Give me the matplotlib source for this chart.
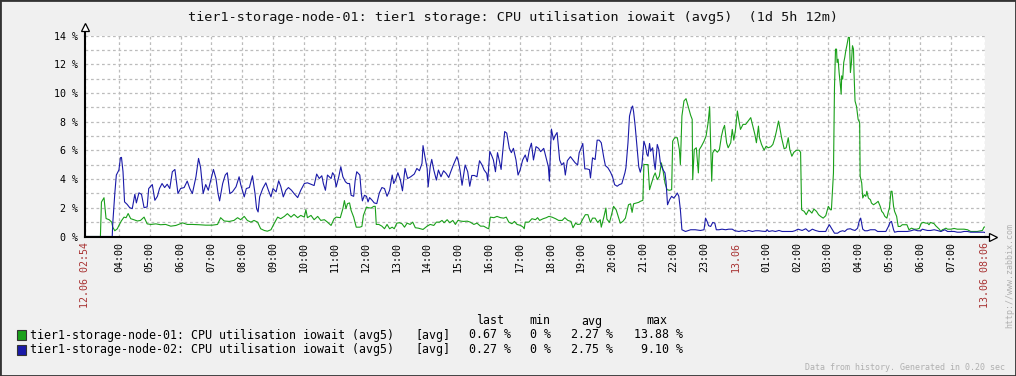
import matplotlib
matplotlib.use('Agg')
import matplotlib.pyplot as plt
from matplotlib.patches import Rectangle

plt.rcParams['font.family'] = ['DejaVu Sans Mono']

# time = minutes since 12.06 00:00, values = iowait %
t_node01 = [174, 204, 206, 211, 215, 221, 226, 228, 232, 237, 240, 245, 250, 254, 258, 263, 269, 276, 282, 289,
            295, 302, 312, 321, 331, 341, 351, 364, 373, 383, 396, 409, 422, 432, 438, 445, 455, 464, 471, 477,
            484, 490, 497, 503, 510, 516, 523, 529, 536, 542, 549, 555, 562, 568, 575, 581, 588, 594, 601, 604,
            607, 614, 620, 627, 633, 640, 646, 653, 659, 663, 671, 676, 679, 682, 685, 689, 692, 697, 702, 709,
            713, 716, 722, 726, 731, 736, 739, 741, 746, 752, 757, 762, 767, 772, 776, 781, 786, 791, 796, 801,
            807, 812, 817, 823, 832, 840, 846, 853, 858, 864, 869, 873, 879, 884, 890, 895, 900, 906, 911, 918,
            924, 931, 937, 944, 950, 957, 960, 963, 970, 976, 983, 989, 994, 999, 1005, 1010, 1015, 1022, 1027, 1029,
            1031, 1038, 1044, 1051, 1055, 1059, 1066, 1072, 1077, 1083, 1090, 1096, 1103, 1108, 1114, 1120, 1124, 1129, 1133, 1138,
            1143, 1148, 1153, 1158, 1162, 1167, 1172, 1177, 1179, 1184, 1188, 1190, 1195, 1199, 1203, 1208, 1212, 1216, 1221, 1226,
            1229, 1232, 1236, 1239, 1242, 1247, 1252, 1255, 1260, 1262, 1266, 1270, 1273, 1277, 1281, 1284, 1288, 1292, 1296, 1299,
            1303, 1307, 1312, 1316, 1318, 1322, 1327, 1331, 1333, 1336, 1340, 1344, 1348, 1353, 1356, 1357, 1360, 1364, 1368, 1370,
            1374, 1379, 1383, 1387, 1390, 1392, 1394, 1396, 1400, 1405, 1409, 1413, 1416, 1419, 1423, 1426, 1431, 1434, 1437, 1440,
            1444, 1447, 1450, 1455, 1460, 1465, 1470, 1474, 1478, 1481, 1485, 1487, 1491, 1496, 1500, 1504, 1509, 1513, 1517, 1520,
            1524, 1526, 1530, 1535, 1539, 1543, 1546, 1550, 1554, 1559, 1564, 1567, 1569, 1574, 1578, 1583, 1589, 1593, 1598, 1602,
            1606, 1611, 1616, 1621, 1625, 1627, 1631, 1633, 1635, 1637, 1638, 1640, 1642, 1644, 1646, 1647, 1649, 1651, 1653, 1655,
            1657, 1660, 1662, 1664, 1666, 1668, 1670, 1671, 1673, 1676, 1679, 1682, 1683, 1686, 1688, 1691, 1694, 1696, 1699, 1703,
            1705, 1709, 1714, 1718, 1722, 1725, 1728, 1731, 1735, 1738, 1740, 1743, 1745, 1748, 1750, 1754, 1757, 1761, 1765, 1770,
            1774, 1778, 1783, 1788, 1793, 1798, 1802, 1806, 1811, 1814, 1817, 1820, 1824, 1827, 1830, 1833, 1837, 1840, 1843, 1846,
            1850, 1853, 1859, 1866, 1872, 1879, 1885, 1892, 1898, 1905, 1911, 1918, 1921, 1924, 1926]
v_node01 = [0, 0, 2.4, 2.7, 1.25, 1.17, 1.0, 0.65, 0.4, 0.54, 0.77, 1.1, 1.35, 1.31, 1.6, 1.24, 1.17, 1.08, 1.12, 1.35,
            0.88, 0.84, 0.88, 0.82, 0.84, 0.72, 0.77, 0.95, 0.84, 0.84, 0.82, 0.79, 0.79, 0.84, 1.31, 1.08, 1.05, 1.12, 1.31, 1.17,
            1.40, 1.12, 1.0, 1.12, 1.0, 0.54, 0.42, 0.37, 0.47, 0.89, 1.35, 1.24, 1.40, 1.59, 1.35, 1.54, 1.31, 1.47, 1.35, 1.87,
            1.31, 1.47, 1.17, 1.40, 1.12, 1.17, 1.0, 0.77, 1.24, 1.35, 1.31, 1.94, 2.5, 1.94, 2.29, 2.34, 1.82, 1.35, 0.65, 0.65,
            0.70, 1.47, 2.05, 2.0, 1.98, 2.1, 2.1, 0.84, 0.84, 0.72, 0.54, 0.84, 0.54, 0.65, 0.54, 0.93, 0.96, 0.89, 0.65, 0.93,
            0.84, 1.0, 0.61, 0.58, 0.49, 0.72, 0.84, 0.77, 1.0, 1.0, 1.12, 0.96, 1.17, 0.96, 1.12, 0.84, 1.12, 1.07, 1.05, 1.07,
            1.0, 0.84, 0.93, 0.72, 0.72, 0.58, 0.54, 1.35, 1.31, 1.40, 1.31, 1.28, 1.35, 1.0, 0.89, 1.05, 0.84, 0.77, 0.65, 0.54,
            1.0, 1.0, 1.24, 1.17, 1.31, 1.12, 1.24, 1.31, 1.40, 1.35, 1.24, 1.12, 1.12, 1.31, 1.12, 1.05, 0.61, 0.93, 0.84, 0.86,
            1.21, 1.52, 1.52, 0.98, 1.28, 1.28, 0.98, 1.17, 0.65, 1.35, 1.98, 1.21, 0.98, 1.52, 2.10, 1.86, 1.40, 0.93, 1.05, 1.28,
            1.75, 2.21, 2.28, 1.68, 2.28, 2.33, 2.38, 2.45, 2.52, 5.01, 5.01, 5.01, 3.26, 3.73, 4.20, 4.43, 3.96, 4.20, 5.13, 4.66,
            3.73, 3.26, 3.22, 3.26, 6.64, 6.88, 6.88, 6.06, 5.01, 8.39, 9.44, 9.60, 9.09, 8.44, 8.16, 3.96, 6.06, 6.18, 4.43, 6.06,
            6.29, 6.64, 6.99, 7.93, 9.04, 6.29, 3.85, 5.83, 6.06, 5.87, 6.06, 6.99, 7.46, 7.74, 6.53, 6.18, 6.53, 7.46, 6.71, 7.34,
            8.74, 8.04, 7.46, 7.81, 7.81, 8.04, 8.28, 7.69, 7.11, 6.53, 7.69, 6.88, 6.41, 6.01, 6.29, 6.18, 6.25, 6.41, 6.88, 7.34,
            8.04, 7.69, 6.88, 6.11, 6.18, 6.88, 6.06, 5.59, 5.87, 6.01, 6.01, 5.87, 1.86, 1.75, 1.52, 1.86, 1.63, 1.91, 1.75, 1.52,
            1.40, 1.28, 1.45, 2.10, 1.86, 1.86, 4.43, 10.37, 13.05, 13.05, 12.12, 12.35, 11.42, 10.72, 9.91, 11.19, 10.96, 12.12, 12.47, 12.94,
            13.29, 13.87, 13.87, 11.42, 12.12, 13.29, 13.05, 11.42, 9.44, 9.04, 8.16, 7.93, 4.20, 3.73, 2.68, 2.91, 2.80, 3.15, 2.68, 2.56,
            2.33, 2.21, 2.33, 2.45, 2.10, 1.75, 1.63, 1.40, 1.28, 1.75, 1.98, 3.15, 3.15, 2.10, 1.75, 1.40, 0.70, 0.70, 0.82, 0.82,
            0.82, 0.47, 0.58, 0.51, 0.51, 0.56, 0.93, 0.98, 0.93, 0.93, 0.82, 0.98, 0.93, 0.89, 0.75, 0.65, 0.51, 0.35, 0.47, 0.51,
            0.58, 0.51, 0.51, 0.56, 0.51, 0.51, 0.51, 0.47, 0.35, 0.35, 0.35, 0.40, 0.42, 0.65, 0.67]

t_node02 = [174, 227, 228, 232, 235, 240, 243, 245, 248, 251, 256, 261, 266, 271, 274, 279, 284, 289, 295, 298,
            305, 310, 315, 319, 324, 329, 334, 339, 344, 349, 352, 355, 360, 367, 373, 378, 383, 390, 395, 399,
            404, 409, 414, 419, 424, 429, 433, 436, 442, 447, 451, 456, 461, 468, 474, 477, 484, 488, 494, 500,
            505, 508, 511, 514, 520, 526, 531, 536, 540, 546, 551, 555, 560, 565, 570, 576, 581, 588, 594, 601,
            607, 614, 620, 625, 630, 635, 638, 642, 646, 653, 656, 659, 663, 668, 672, 676, 681, 685, 689, 692,
            697, 700, 703, 709, 712, 714, 718, 722, 725, 728, 733, 737, 742, 747, 752, 757, 762, 767, 772, 775,
            779, 783, 788, 792, 797, 802, 808, 815, 820, 825, 830, 832, 836, 840, 842, 846, 849, 853, 858, 862,
            867, 872, 877, 882, 886, 891, 898, 901, 904, 908, 911, 914, 919, 923, 927, 932, 937, 942, 947, 951,
            956, 958, 962, 966, 969, 973, 977, 981, 984, 987, 991, 995, 1000, 1004, 1008, 1013, 1017, 1021, 1026, 1031,
            1035, 1039, 1043, 1047, 1052, 1057, 1061, 1067, 1072, 1076, 1078, 1080, 1082, 1086, 1089, 1093, 1098, 1102, 1106, 1109,
            1113, 1119, 1124, 1128, 1133, 1136, 1140, 1143, 1147, 1151, 1156, 1158, 1162, 1167, 1171, 1175, 1179, 1184, 1187, 1192,
            1197, 1201, 1205, 1210, 1214, 1219, 1225, 1227, 1231, 1234, 1238, 1240, 1242, 1245, 1249, 1252, 1255, 1258, 1262, 1265,
            1268, 1270, 1273, 1275, 1279, 1282, 1284, 1288, 1291, 1294, 1299, 1303, 1305, 1308, 1312, 1316, 1320, 1323, 1327, 1330,
            1333, 1336, 1343, 1353, 1362, 1372, 1379, 1382, 1385, 1388, 1392, 1396, 1400, 1403, 1408, 1414, 1421, 1427, 1434, 1439,
            1447, 1453, 1460, 1466, 1473, 1479, 1486, 1492, 1499, 1502, 1505, 1512, 1518, 1525, 1531, 1541, 1551, 1556, 1562, 1570,
            1577, 1583, 1590, 1596, 1603, 1609, 1616, 1618, 1623, 1627, 1633, 1639, 1644, 1649, 1653, 1658, 1664, 1668, 1673, 1678,
            1681, 1684, 1688, 1692, 1697, 1703, 1707, 1712, 1717, 1722, 1728, 1733, 1738, 1741, 1744, 1748, 1750, 1756, 1762, 1769,
            1775, 1782, 1788, 1795, 1801, 1804, 1808, 1814, 1820, 1827, 1833, 1840, 1848, 1853, 1859, 1866, 1872, 1879, 1885, 1892,
            1898, 1905, 1911, 1918, 1924, 1926]
v_node02 = [0, 0, 0.89, 2.99, 4.28, 4.63, 5.49, 5.51, 4.51, 2.41, 2.24, 2.01, 1.94, 2.94, 2.34, 3.04, 2.94, 2.01, 2.06, 3.34,
            3.62, 2.52, 2.80, 3.34, 3.69, 3.41, 3.64, 3.34, 4.51, 4.67, 3.81, 2.99, 3.34, 3.41, 3.86, 3.34, 2.99, 4.16, 5.44, 4.81,
            2.99, 3.62, 3.22, 3.93, 4.67, 4.04, 2.99, 2.48, 3.69, 4.28, 4.44, 2.99, 3.11, 3.46, 4.16, 3.64, 2.76, 3.34, 3.41, 4.23,
            2.99, 1.94, 1.71, 2.76, 3.34, 3.74, 3.22, 2.76, 3.34, 3.11, 3.88, 3.50, 2.76, 3.22, 3.41, 3.22, 2.99, 2.71, 3.22, 3.69,
            3.74, 3.64, 3.55, 4.35, 4.04, 4.23, 3.69, 3.22, 4.28, 4.04, 4.44, 4.28, 3.46, 4.16, 4.86, 4.16, 3.81, 3.69, 3.69, 2.87,
            2.80, 3.93, 4.51, 4.28, 2.99, 2.48, 2.87, 2.80, 2.41, 2.71, 2.52, 2.34, 2.29, 3.04, 3.41, 3.34, 2.80, 3.22, 4.28, 3.69,
            3.97, 4.44, 3.93, 3.18, 4.74, 4.04, 4.16, 4.35, 4.74, 4.58, 5.09, 6.33, 5.51, 4.74, 3.46, 4.86, 5.37, 4.63, 3.93, 4.63,
            4.16, 4.58, 4.39, 4.11, 4.51, 4.98, 5.56, 5.21, 4.63, 3.57, 4.28, 4.98, 4.51, 3.50, 4.25, 4.25, 4.16, 5.28, 4.98, 4.63,
            4.39, 3.88, 5.93, 5.61, 5.33, 4.51, 5.84, 5.21, 4.67, 5.84, 7.31, 7.20, 6.14, 5.84, 6.14, 5.33, 4.28, 4.63, 5.33, 5.68,
            5.21, 6.03, 6.50, 5.33, 6.26, 6.14, 5.91, 6.14, 5.44, 4.86, 3.86, 5.91, 7.48, 6.73, 7.01, 7.24, 5.33, 4.98, 5.14, 4.28,
            5.28, 5.56, 5.33, 5.14, 4.98, 5.83, 6.18, 6.48, 4.71, 4.71, 4.66, 4.08, 5.48, 5.36, 6.71, 6.71, 6.53, 5.48, 4.94, 4.78,
            4.48, 4.15, 3.61, 3.50, 3.61, 3.68, 4.43, 4.78, 6.53, 8.39, 8.97, 9.09, 8.67, 7.69, 6.06, 4.85, 4.48, 4.90, 6.64, 6.29,
            5.71, 5.59, 6.48, 5.94, 6.18, 5.13, 4.66, 6.41, 6.06, 5.13, 4.66, 4.43, 3.85, 2.21, 2.56, 2.80, 2.68, 2.80, 3.03, 2.80,
            1.86, 0.47, 0.35, 0.47, 0.47, 0.42, 0.47, 1.28, 1.05, 0.75, 0.70, 0.98, 0.93, 0.47, 0.47, 0.51, 0.47, 0.51, 0.51, 0.40,
            0.35, 0.40, 0.35, 0.42, 0.35, 0.40, 0.40, 0.37, 0.35, 0.47, 0.35, 0.40, 0.35, 0.42, 0.35, 0.35, 0.35, 0.40, 0.51, 0.42,
            0.54, 0.35, 0.51, 0.42, 0.35, 0.35, 0.35, 0.51, 0.82, 0.58, 0.23, 0.23, 0.35, 0.40, 0.35, 0.51, 0.54, 0.47, 0.42, 0.58,
            1.05, 1.28, 0.51, 0.40, 0.40, 0.47, 0.47, 0.47, 0.35, 0.35, 0.35, 0.35, 0.70, 0.98, 1.05, 0.47, 0.30, 0.35, 0.35, 0.35,
            0.35, 0.40, 0.47, 0.40, 0.40, 0.51, 0.47, 0.42, 0.42, 0.47, 0.42, 0.35, 0.47, 0.35, 0.35, 0.35, 0.30, 0.30, 0.35, 0.35,
            0.30, 0.30, 0.30, 0.30, 0.30, 0.27]

names = ['tier1-storage-node-01: CPU utilisation iowait (avg5)',
         'tier1-storage-node-02: CPU utilisation iowait (avg5)']
stat_headers = ['last', 'min', 'avg', 'max']
stat_values = [['0.67 %', '0 %', '2.27 %', '13.88 %'],
               ['0.27 %', '0 %', '2.75 %', '9.10 %']]
colors = ['#1aa01a', '#1a1aa8']
title = 'tier1-storage-node-01: tier1 storage: CPU utilisation iowait (avg5)  (1d 5h 12m)'

W, H = 1016, 376
RED = '#a83232'
GRID = '#bcbcbc'


def fx(px):
    return px / W


def fy(py):
    return 1 - py / H


fig = plt.figure(figsize=(W / 100, H / 100), dpi=100, facecolor='#f0f0f0')
ax = fig.add_axes([fx(85), fy(236.5), 900 / W, 201 / H])
ax.set_facecolor('white')

ax.plot(t_node01, v_node01, color=colors[0], lw=0.8, zorder=3)
ax.plot(t_node02, v_node02, color=colors[1], lw=0.8, zorder=4)

ax.set_xlim(174, 1926)
ax.set_ylim(0, 14)

# x ticks: start, every hour up to 07:00, end
hours = list(range(240, 1861, 60))
xticks = [174] + hours + [1926]
xlabels = ['12.06 02:54']
for m in hours:
    xlabels.append('13.06' if m == 1440 else '%02d:00' % ((m // 60) % 24))
xlabels.append('13.06 08:06')
ax.set_xticks(xticks)
ax.set_xticklabels(xlabels, rotation=90, fontsize=7.2)
for lab in ax.get_xticklabels():
    if '.' in lab.get_text():
        lab.set_color(RED)

ax.set_yticks(range(0, 15, 2))
ax.set_yticklabels(['%d %%' % v for v in range(0, 15, 2)], fontsize=7.2)
ax.set_yticks(range(1, 14, 2), minor=True)
ax.tick_params(axis='both', which='both', length=0)
ax.tick_params(axis='x', pad=4)
ax.tick_params(axis='y', pad=5)

ax.grid(True, which='both', color=GRID, lw=0.9, linestyle=(0, (2.2, 2.2)), zorder=1)

for s in ['top', 'right']:
    ax.spines[s].set_visible(False)
for s in ['left', 'bottom']:
    ax.spines[s].set_linewidth(1.5)
    ax.spines[s].set_color('black')
    ax.spines[s].set_zorder(5)

# axis arrows
ax.plot([0, 0], [1, 1.025], transform=ax.transAxes, color='black', lw=1.5, clip_on=False)
ax.plot([0], [1.04], transform=ax.transAxes, marker='^', ms=6, mfc='white', mec='black', mew=0.9, clip_on=False)
ax.plot([1, 1.005], [0, 0], transform=ax.transAxes, color='black', lw=1.5, clip_on=False)
ax.plot([1.009], [0], transform=ax.transAxes, marker='>', ms=6, mfc='white', mec='black', mew=0.9, clip_on=False)

fig.text(fx(513), fy(17), title, ha='center', va='center', fontsize=9.7, color='#111111')

# legend
hdr_x = [490, 540, 592, 657]
for h, x in zip(stat_headers, hdr_x):
    fig.text(fx(x), fy(321), h, ha='center', va='center', fontsize=8.4)
val_x = [511, 551, 613, 683]
for i, (name, vals) in enumerate(zip(names, stat_values)):
    yc = 335 + 14.5 * i
    fig.add_artist(Rectangle((fx(17), fy(yc + 5)), 9 / W, 10 / H, transform=fig.transFigure,
                             facecolor=colors[i], edgecolor='#333333', lw=0.8))
    fig.text(fx(30), fy(yc), name, ha='left', va='center', fontsize=8.4)
    fig.text(fx(415), fy(yc), '[avg]', ha='left', va='center', fontsize=8.4)
    for v, x in zip(vals, val_x):
        fig.text(fx(x), fy(yc), v, ha='right', va='center', fontsize=8.4)

fig.text(fx(1005), fy(368), 'Data from history. Generated in 0.20 sec', ha='right', va='center',
         fontsize=6, color='#b0b0b0')
fig.text(fx(1010), fy(275), 'http://www.zabbix.com', ha='center', va='center', rotation=90,
         fontsize=6, color='#b0b0b0')

fig.add_artist(Rectangle((0, 0), 1, 1, transform=fig.transFigure, fill=False, edgecolor='#333333', lw=2))

fig.savefig('out.png', dpi=100, facecolor=fig.get_facecolor())
